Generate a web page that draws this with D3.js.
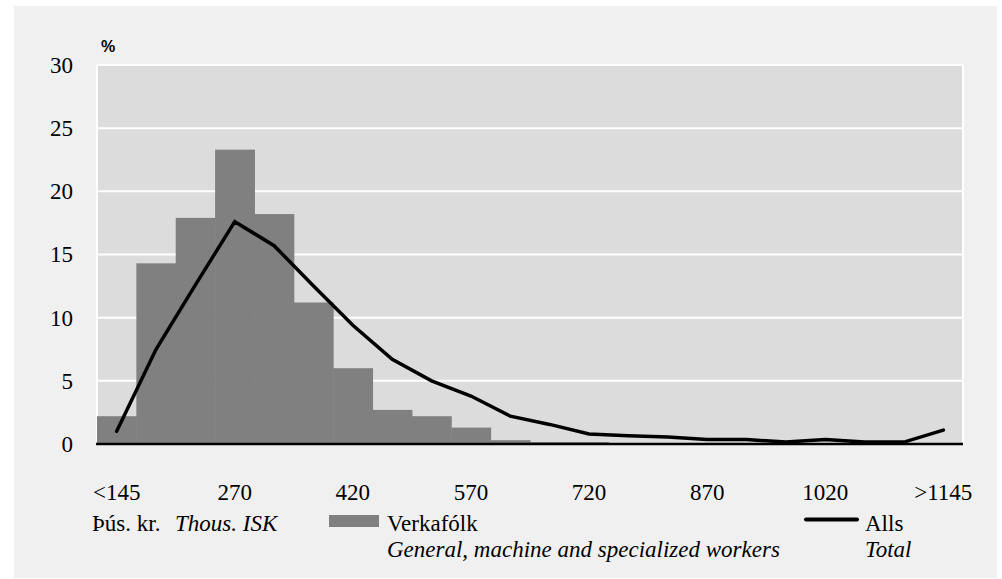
<!DOCTYPE html>
<html>
<head>
<meta charset="utf-8">
<script src="https://cdn.jsdelivr.net/npm/d3@7"></script>
<style>
  body { margin: 0; background: #fff; }
</style>
</head>
<body>
<script>
// Define data
const categories = ['<145', '170', '220', '270', '320', '370', '420', '470', '520', '570', '620',
  '670', '720', '770', '820', '870', '920', '970', '1020', '1070', '1120', '>1145'];
const workers = [2.2, 14.3, 17.9, 23.3, 18.2, 11.2, 6.0, 2.7, 2.2, 1.3, 0.3,
  0.15, 0.15, 0, 0, 0, 0, 0, 0, 0, 0, 0];
const total = [1.0, 7.5, 12.6, 17.6, 15.7, 12.5, 9.4, 6.7, 5.0, 3.8, 2.2,
  1.55, 0.8, 0.65, 0.55, 0.35, 0.35, 0.15, 0.35, 0.15, 0.15, 1.1];
const xTickLabels = ['<145', '270', '420', '570', '720', '870', '1020', '>1145'];
const yTicks = [0, 5, 10, 15, 20, 25, 30];

const width = 1002, height = 579;
const margin = { top: 65, bottom: 135, left: 97, right: 39 };
const serif = "'Liberation Serif', 'Times New Roman', Tinos, 'DejaVu Serif', serif";
const fontSize = 23;

const svg = d3.select('body')
  .append('svg')
  .attr('width', width)
  .attr('height', height);

// outer panel
svg.append('rect')
  .attr('x', 14).attr('y', 6)
  .attr('width', 983).attr('height', 572)
  .attr('fill', '#f0f0f0');

const xscale = d3.scaleBand()
  .domain(categories)
  .range([margin.left, width - margin.right])
  .padding(0);

const yscale = d3.scaleLinear()
  .domain([0, 30])
  .range([height - margin.bottom, margin.top]);

// plot background
svg.append('rect')
  .attr('x', margin.left).attr('y', margin.top)
  .attr('width', width - margin.left - margin.right)
  .attr('height', height - margin.bottom - margin.top)
  .attr('fill', '#dcdcdc')
  .attr('stroke', '#fff')
  .attr('stroke-width', 2);

// gridlines
svg.append('g')
  .selectAll('line')
  .data(yTicks.filter(d => d > 0))
  .enter()
  .append('line')
  .attr('x1', margin.left)
  .attr('x2', width - margin.right)
  .attr('y1', d => yscale(d))
  .attr('y2', d => yscale(d))
  .attr('stroke', '#fff')
  .attr('stroke-width', 2);

// bars
svg.append('g')
  .selectAll('rect')
  .data(workers)
  .enter()
  .append('rect')
  .attr('x', (d, i) => xscale(categories[i]))
  .attr('width', xscale.bandwidth() + 0.5)
  .attr('y', d => yscale(d))
  .attr('height', d => yscale(0) - yscale(d))
  .attr('fill', '#808080');

// zero line
svg.append('line')
  .attr('x1', margin.left - 1)
  .attr('x2', width - margin.right)
  .attr('y1', yscale(0))
  .attr('y2', yscale(0))
  .attr('stroke', '#000')
  .attr('stroke-width', 2.5);

// total line
const line = d3.line()
  .x((d, i) => xscale(categories[i]) + xscale.bandwidth() / 2)
  .y(d => yscale(d));

svg.append('path')
  .datum(total)
  .attr('d', line)
  .attr('fill', 'none')
  .attr('stroke', '#000')
  .attr('stroke-width', 3.5)
  .attr('stroke-linecap', 'round');

// y-axis labels
const yaxis = svg.append('g')
  .attr('transform', `translate(${margin.left - 24}, 0)`)
  .call(d3.axisLeft(yscale).tickValues(yTicks).tickSize(0).tickPadding(0));
yaxis.select('.domain').remove();
yaxis.selectAll('text')
  .style('font-family', serif)
  .style('font-size', fontSize + 'px')
  .attr('fill', '#000');

// x-axis labels
const xaxis = svg.append('g')
  .attr('transform', `translate(0, ${yscale(0) + 41})`)
  .call(d3.axisBottom(xscale).tickValues(xTickLabels).tickSize(0).tickPadding(0));
xaxis.select('.domain').remove();
xaxis.selectAll('text')
  .attr('dy', 0)
  .attr('y', 15)
  .style('font-family', serif)
  .style('font-size', fontSize + 'px')
  .attr('fill', '#000');

// unit label
svg.append('text')
  .text('%')
  .attr('x', 101)
  .attr('y', 52)
  .style('font-family', "'Liberation Sans', Arial, sans-serif")
  .style('font-size', '16px')
  .style('font-weight', 'bold');

// plain serif text helper
function label(str, x, y, italic) {
  return svg.append('text')
    .text(str)
    .attr('x', x)
    .attr('y', y)
    .style('font-family', serif)
    .style('font-size', fontSize + 'px')
    .style('font-style', italic ? 'italic' : 'normal')
    .attr('fill', '#000');
}

// x unit label
label('Þús. kr.', 92, 531, false);
label('Thous. ISK', 175, 531, true);

// legend: bars
svg.append('rect')
  .attr('x', 329).attr('y', 515)
  .attr('width', 50).attr('height', 12)
  .attr('fill', '#808080');
label('Verkafólk', 387, 531, false);
label('General, machine and specialized workers', 387, 557, true);

// legend: line
svg.append('line')
  .attr('x1', 806).attr('x2', 857)
  .attr('y1', 519.5).attr('y2', 519.5)
  .attr('stroke', '#000')
  .attr('stroke-width', 4)
  .attr('stroke-linecap', 'round');
label('Alls', 865, 531, false);
label('Total', 865, 557, true);
</script>
</body>
</html>
